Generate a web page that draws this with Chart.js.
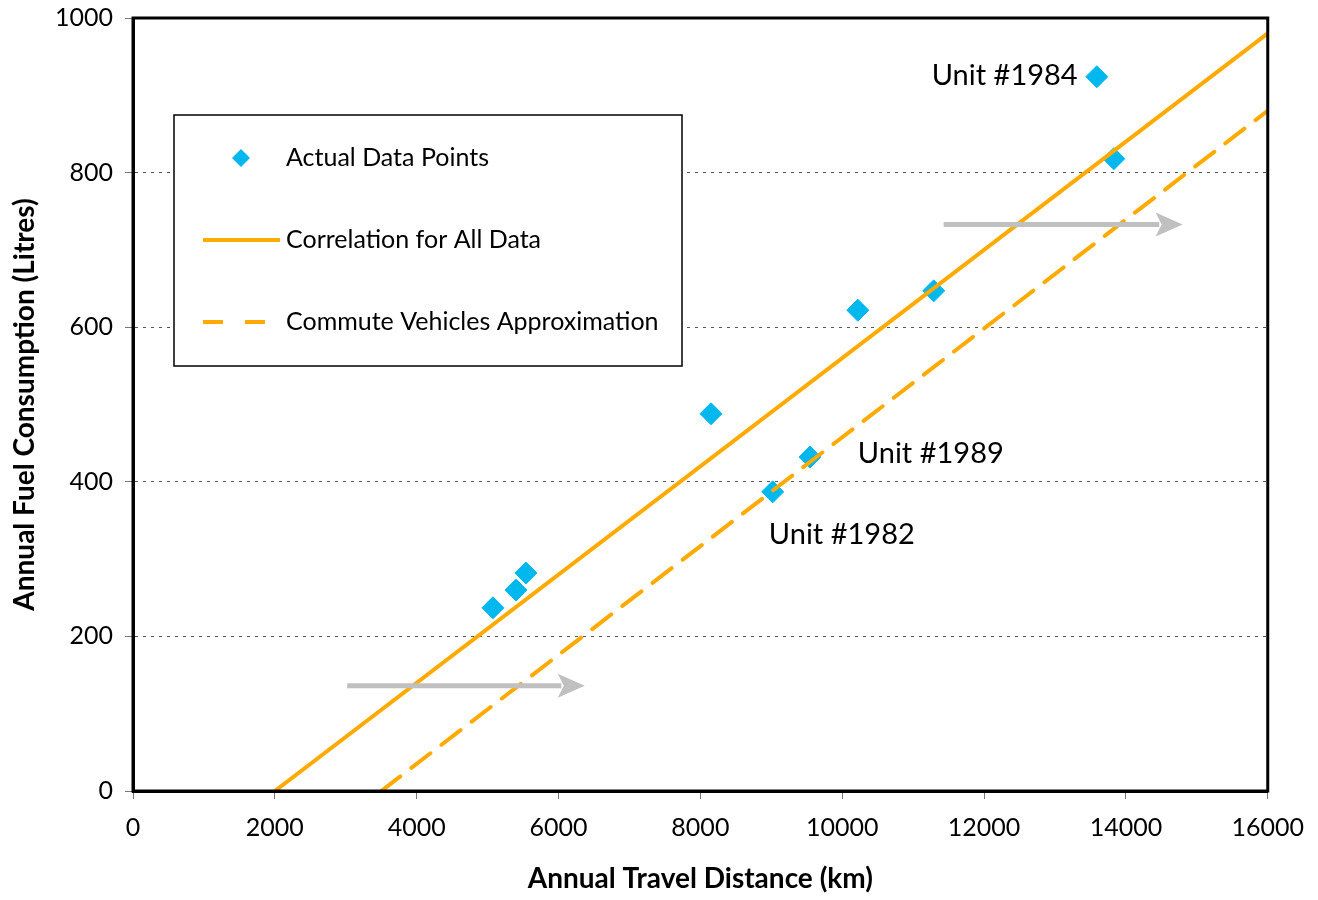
<!DOCTYPE html>
<html>
<head>
<meta charset="utf-8">
<script src="https://cdn.jsdelivr.net/npm/chart.js@4"></script>
<style>
  html, body { margin: 0; padding: 0; background: #fff; }
  #wrap { width: 1318px; height: 900px; }
</style>
</head>
<body>
<div id="wrap"><canvas id="fuelChart" width="1318" height="900"></canvas></div>
<script>
// data
const distanceKm = [5075, 5400, 5540, 8150, 9020, 9545, 10220, 11290, 13590, 13830];
const fuelLitres = [237, 260, 282, 488, 387, 432, 622, 647, 924, 818];

const correlationX = [2000, 16000];
const correlationY = [0, 980];
const commuteX = [3500, 16000];
const commuteY = [0, 880];

const arrowFromX = [3020, 11430];
const arrowToX = [6370, 14800];
const arrowY = [136, 733];

const noteText = ['Unit #1984', 'Unit #1989', 'Unit #1982'];
const noteX = [13320, 10220, 8965];
const noteY = [926, 437, 331];
const noteAlign = ['right', 'left', 'left'];

const xTicks = [0, 2000, 4000, 6000, 8000, 10000, 12000, 14000, 16000];
const yTicks = [0, 200, 400, 600, 800, 1000];

const legendLabels = ['Actual Data Points', 'Correlation for All Data', 'Commute Vehicles Approximation'];

const FONT = 'Lato, "DejaVu Sans", sans-serif';
const ORANGE = '#ffaa00';
const BLUE = '#00b8ee';

function pairs(xs, ys) {
  return xs.map((x, i) => ({ x: x, y: ys[i] }));
}

const arrowSets = arrowY.map((y, i) => ({
  label: 'arrow' + i,
  type: 'line',
  data: [{ x: arrowFromX[i], y: y }, { x: arrowToX[i] - 330, y: y }],
  borderColor: '#c0c0c0',
  borderWidth: 5,
  pointRadius: 0
}));

const extras = {
  id: 'extras',
  beforeDatasetsDraw(chart) {
    // grey arrow heads
    const c = chart.ctx, xs = chart.scales.x, ys = chart.scales.y;
    c.save();
    c.fillStyle = '#c0c0c0';
    arrowY.forEach((y, i) => {
      const tx = xs.getPixelForValue(arrowToX[i]);
      const py = ys.getPixelForValue(y);
      c.beginPath();
      c.moveTo(tx, py);
      c.lineTo(tx - 27, py - 12);
      c.lineTo(tx - 21, py);
      c.lineTo(tx - 27, py + 12);
      c.closePath();
      c.fill();
    });
    c.restore();
  },
  afterDatasetsDraw(chart) {
    const c = chart.ctx, a = chart.chartArea, xs = chart.scales.x, ys = chart.scales.y;
    c.save();
    // notes
    c.fillStyle = '#000';
    c.font = '29px ' + FONT;
    c.textBaseline = 'middle';
    noteText.forEach((t, i) => {
      c.textAlign = noteAlign[i];
      c.fillText(t, xs.getPixelForValue(noteX[i]), ys.getPixelForValue(noteY[i]));
    });
    // frame
    c.strokeStyle = '#000';
    c.lineWidth = 3;
    c.strokeRect(a.left, a.top, a.right - a.left, a.bottom - a.top);

    // legend box
    const lx = 174, ly = 115, lw = 508, lh = 251;
    c.fillStyle = '#fff';
    c.fillRect(lx, ly, lw, lh);
    c.lineWidth = 1.5;
    c.strokeStyle = '#000';
    c.strokeRect(lx, ly, lw, lh);
    const rows = [158, 240, 322];
    c.fillStyle = BLUE;
    c.beginPath();
    c.moveTo(241, rows[0] - 9);
    c.lineTo(250, rows[0]);
    c.lineTo(241, rows[0] + 9);
    c.lineTo(232, rows[0]);
    c.closePath();
    c.fill();
    c.strokeStyle = ORANGE;
    c.lineWidth = 4;
    c.beginPath();
    c.moveTo(203, rows[1]);
    c.lineTo(280, rows[1]);
    c.stroke();
    c.setLineDash([20, 22]);
    c.beginPath();
    c.moveTo(203, rows[2]);
    c.lineTo(276, rows[2]);
    c.stroke();
    c.setLineDash([]);
    c.fillStyle = '#000';
    c.font = '25px ' + FONT;
    c.textAlign = 'left';
    c.textBaseline = 'middle';
    legendLabels.forEach((t, i) => c.fillText(t, 286, rows[i]));
    c.restore();
  }
};

new Chart(document.getElementById('fuelChart').getContext('2d'), {
  type: 'scatter',
  data: {
    datasets: [
      ...arrowSets,
      {
        label: legendLabels[1],
        type: 'line',
        data: pairs(correlationX, correlationY),
        borderColor: ORANGE,
        borderWidth: 4,
        pointRadius: 0
      },
      {
        label: legendLabels[2],
        type: 'line',
        data: pairs(commuteX, commuteY),
        borderColor: ORANGE,
        borderWidth: 4,
        borderDash: [24, 14],
        borderCapStyle: 'round',
        pointRadius: 0
      },
      {
        label: legendLabels[0],
        data: pairs(distanceKm, fuelLitres),
        backgroundColor: BLUE,
        borderColor: BLUE,
        pointStyle: 'rectRot',
        pointRadius: 11,
        pointHoverRadius: 11
      }
    ]
  },
  options: {
    responsive: false,
    animation: false,
    events: [],
    layout: { padding: { top: 18, right: 50, left: 4, bottom: 0 } },
    plugins: { legend: { display: false }, tooltip: { enabled: false } },
    scales: {
      x: {
        type: 'linear',
        min: 0, max: 16000,
        afterBuildTicks: s => { s.ticks = xTicks.map(v => ({ value: v })); },
        afterFit: s => { s.height = 109; },
        ticks: { color: '#000', font: { family: FONT, size: 25 }, padding: 14, maxRotation: 0,
                 callback: v => String(v) },
        grid: { drawOnChartArea: false, drawTicks: true, tickLength: 8, tickColor: '#777' },
        border: { display: true, color: '#000', width: 3 },
        title: { display: true, text: 'Annual Travel Distance (km)', color: '#000',
                 font: { family: FONT, size: 28, weight: 'bold' }, padding: { top: 10 } }
      },
      y: {
        type: 'linear',
        min: 0, max: 1000,
        afterBuildTicks: s => { s.ticks = yTicks.map(v => ({ value: v })); },
        afterFit: s => { s.width = 129; s.paddingTop = 0; s.paddingBottom = 0; },
        ticks: { color: '#000', font: { family: FONT, size: 25 }, padding: 12,
                 callback: v => String(v) },
        grid: { color: '#555', lineWidth: 1, drawTicks: true, tickLength: 8,
                tickColor: '#777', tickBorderDash: [] },
        border: { display: true, color: '#000', width: 3, dash: [3, 5] },
        title: { display: true, text: 'Annual Fuel Consumption (Litres)', color: '#000',
                 font: { family: FONT, size: 28, weight: 'bold' }, padding: { bottom: 6 } }
      }
    }
  },
  plugins: [extras]
});
</script>
</body>
</html>
